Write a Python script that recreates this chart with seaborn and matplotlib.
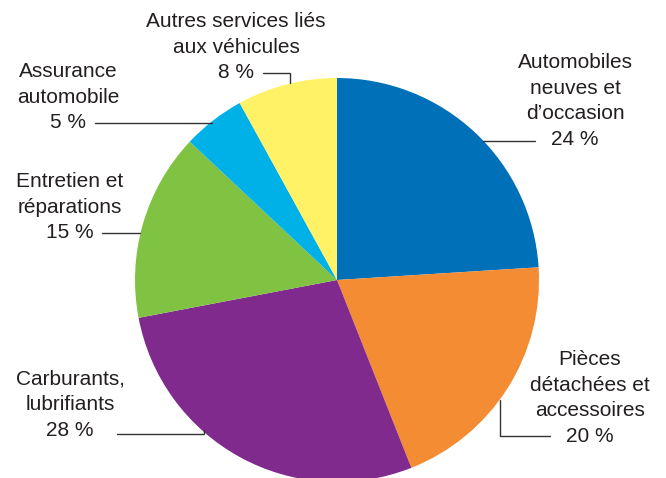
import matplotlib
matplotlib.use("Agg")
import matplotlib.pyplot as plt
import seaborn as sns

# ==============================
# Data
# ==============================
categories = [
    "Automobiles\nneuves et\nd’occasion",
    "Pièces\ndétachées et\naccessoires",
    "Carburants,\nlubrifiants",
    "Entretien et\nréparations",
    "Assurance\nautomobile",
    "Autres services liés\naux véhicules",
]
shares = [24, 20, 28, 15, 5, 8]
colors = ["#0070B9", "#F38C33", "#7F2A8C", "#80C242", "#00B1E7", "#FFF267"]

# ==============================
# Layout (pixel coordinates, y from top)
# ==============================
W, H = 666, 478
center_px = (337, 280)
radius_px = 202

# label centre (x, y) and leader polyline for each category
label_pos = [(575, 101), (590, 398), (70, 405), (70, 207), (68, 97), (236, 47)]
leaders = [
    [(483, 141), (535, 141)],
    [(500, 400), (500, 436), (550, 436)],
    [(117, 434), (204, 434), (204, 430)],
    [(102, 233), (140, 233)],
    [(95, 123), (212, 123)],
    [(263, 73), (290, 73), (290, 83)],
]

sns.set_theme(style="white")
plt.rcParams["font.family"] = ["Liberation Sans", "DejaVu Sans"]

fig = plt.figure(figsize=(W / 100, H / 100), dpi=100)
ax = fig.add_axes([0, 0, 1, 1])


def fy(y):
    return H - y


ax.pie(
    shares,
    colors=colors,
    startangle=90,
    counterclock=False,
    center=(center_px[0], fy(center_px[1])),
    radius=radius_px,
    wedgeprops=dict(linewidth=0),
)

for cat, val, (x, y), line in zip(categories, shares, label_pos, leaders):
    ax.text(x, fy(y), f"{cat}\n{val} %", ha="center", va="center",
            multialignment="center", fontsize=15, linespacing=1.45,
            color="#231F20")
    xs = [p[0] for p in line]
    ys = [fy(p[1]) for p in line]
    ax.plot(xs, ys, color="#333333", lw=1.0, solid_joinstyle="miter")

ax.set_xlim(0, W)
ax.set_ylim(0, H)
ax.set_aspect("equal")
ax.axis("off")

plt.savefig("out.png", dpi=100)
